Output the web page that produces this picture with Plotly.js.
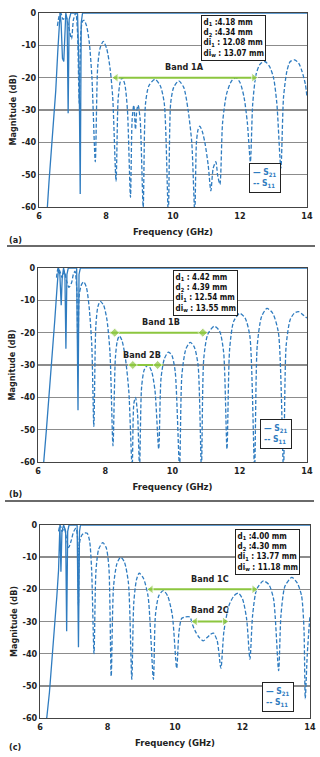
<!DOCTYPE html>
<html><head><meta charset="utf-8">
<script src="https://cdn.plot.ly/plotly-3.0.1.min.js"></script>
<style>html,body{margin:0;padding:0;background:#fff}#chart{width:320px;height:757px}</style>
</head><body><div id="chart"></div>
<script>
// ---------- Data ----------
// Panel (a)
const aS21x = [6.2,6.25,6.3,6.36,6.42,6.5,6.56,6.6,6.63,6.66,6.7,6.74,6.77,6.8,6.84,6.87,6.9,6.95,7.15,7.2,7.23,7.26,7.3,14];
const aS21y = [-65,-60,-52,-44,-35,-24,-12,-4,0,-3,-14,-15,-4,0,-2,-31,-2,0,0,-20,-56,-3,0,0];
const aS11x = [6.55,6.6,6.65,6.72,6.8,6.88,6.97,7.03,7.1,7.15,7.2,7.25,7.3,7.35,7.42,7.5,7.58,7.68,
  7.75,7.82,7.92,8.02,8.12,8.2,8.3, 8.36,8.42,8.48,8.56,8.64,8.73,
  8.78,8.83,8.88,8.92,8.96,9.02,9.11, 9.18,9.28,9.46,9.62,9.74,9.86,
  9.93,10.02,10.17,10.32,10.45,10.56,10.65, 10.7,10.75,10.8,10.87,10.95,11.05,11.13,11.2,11.28,11.33,11.4,
  11.48,11.6,11.75,11.88,12.0,12.12,12.22,12.31, 12.38,12.48,12.6,12.74,12.88,13.0,13.1,13.22,
  13.3,13.4,13.5,13.63,13.75,13.85,13.95,14];
const aS11y = [-4,-1,0,-2,-1,-4,-8,-2,0,-6,-28,-6,-2.5,-2.3,-4,-9,-20,-46,
  -17,-11,-8.8,-11,-17,-26,-52, -27,-21.5,-20,-22,-30,-57,
  -33,-28.5,-36,-30,-28.5,-33,-60, -28,-22.5,-20.5,-22.5,-28,-62,
  -28,-23,-21,-23,-30,-40,-62, -40,-36,-35,-36.5,-40,-47,-55,-48,-46,-50,-53,
  -34,-25,-21,-20,-21.5,-26,-34,-46, -28,-19,-15.8,-15,-16.5,-20,-28,-48,
  -26,-18,-15,-14.5,-15.5,-18,-22,-26];
// Panel (b)
const bS21x = [6.1,6.17,6.25,6.33,6.42,6.5,6.56,6.61,6.65,6.69,6.72,6.76,6.8,6.83,6.86,6.9,7.15,7.19,7.22,7.26,14];
const bS21y = [-65,-60,-50,-40,-28,-16,-7,0,-2,-11.5,-3,0,-2,-25,-2,0,0,-44,-2,0,0];
const bS11x = [6.55,6.6,6.65,6.72,6.78,6.85,6.92,7.0,7.05,7.1,7.15,7.19,7.23,7.3,7.36,7.44,7.52,7.6,7.66,
  7.72,7.78,7.85,7.95,8.05,8.14,8.23, 8.3,8.36,8.42,8.5,8.6,8.7,8.8, 8.85,8.9,8.96,9.02,
  9.08,9.16,9.27,9.38,9.48,9.59, 9.66,9.76,9.88,9.98,10.08,10.21, 10.28,10.4,10.53,10.65,10.76,10.86,
  10.93,11.05,11.24,11.4,11.52,11.62, 11.7,11.82,12.0,12.16,12.3,12.44, 12.52,12.65,12.81,12.98,13.15,13.3,
  13.38,13.5,13.62,13.75,13.88,14];
const bS11y = [-3,0,-1,-3,-1,-4,-6,-4.5,-2,-1,-6,-28,-8,-5,-4.3,-6,-12,-24,-49,
  -18,-12,-10.3,-11.5,-16,-26,-55, -28,-22.5,-21,-22.5,-28,-38,-62, -42,-40,-45,-62,
  -37,-31.5,-30,-32,-38,-56, -34,-28,-26,-27,-32,-62, -33,-25,-23,-24.5,-30,-62,
  -28,-20.5,-18,-19.5,-26,-56, -25,-16.5,-14,-15.5,-21,-62, -24,-15,-12.5,-14,-20,-62,
  -24,-16,-14,-13.5,-14.5,-15.5];
// Panel (c)
const cS21x = [6.1,6.2,6.28,6.36,6.44,6.5,6.55,6.59,6.62,6.65,6.7,6.76,6.79,6.82,6.86,7.1,7.14,7.17,7.2,14];
const cS21y = [-65,-60,-52,-42,-32,-22,-14,0,-14.5,-2,0,-2,-33,-2,0,0,-38,-2,0,0];
const cS11x = [6.55,6.6,6.65,6.72,6.78,6.85,6.92,7.0,7.07,7.12,7.14,7.18,7.25,7.32,7.4,7.47,7.53,7.6,
  7.66,7.74,7.86,7.96,8.04,8.11, 8.18,8.28,8.39,8.5,8.62,8.72, 8.78,8.86,8.94,9.06,9.2,9.36,
  9.42,9.52,9.65,9.78,9.92,10.05, 10.12,10.2,10.3,10.44,10.52,10.6,10.72,10.84,10.95,11.05,11.14,11.25,11.36,
  11.45,11.6,11.75,11.88,12.0,12.12,12.22, 12.3,12.42,12.62,12.78,12.92,13.07,
  13.14,13.26,13.46,13.62,13.75,13.82,13.86,13.92,14];
const cS11y = [-2,0,-2,-1,-4,-7,-5,-2,-1,-5,-25,-5,-3,-2.5,-2.6,-5,-14,-40,
  -14,-7.5,-5.5,-7,-13,-47, -19,-12,-10,-11.5,-18,-48, -24,-17,-15,-16.5,-22,-48,
  -28,-22,-20.4,-22,-28,-44.5, -33,-29,-28.6,-28.6,-31,-33,-35,-36,-35,-34,-33.6,-36,-44.5,
  -33,-25,-22,-21.2,-23,-29,-41.7, -28,-20,-17.4,-18.5,-23,-45.3,
  -28,-19,-16.3,-18,-22,-32,-54,-40,-28];

// Bands: [start, end] in GHz and level in dB
const band1A = [8.22, 12.49], band1Alevel = -20;
const band1B = [8.15, 11.02], band1Bmarks = [8.28, 10.9], band1Blevel = -20;
const band2B = [8.70, 9.72], band2Bmarks = [8.82, 9.56], band2Blevel = -30;
const band1C = [9.21, 12.42], band1Clevel = -20;
const band2C = [10.52, 11.55], band2Clevel = -30;

const yTicks = [0,-10,-20,-30,-40,-50,-60];
const yTickText = ['0','-10','-20','-30','-40','-50','-60'];
const xTicks = [6,8,10,12,14];

const infoA = ['d<sub>1</sub> :4.18 mm','d<sub>2</sub> :4.34 mm','di<sub>1</sub> : 12.08 mm','di<sub>w</sub> : 13.07 mm'];
const infoB = ['d<sub>1</sub> : 4.42 mm','d<sub>2</sub> : 4.39 mm','di<sub>1</sub> : 12.54 mm','di<sub>w</sub> : 13.55 mm'];
const infoC = ['d<sub>1</sub> :4.00 mm','d<sub>2</sub> :4.30 mm','di<sub>1</sub> : 13.77 mm','di<sub>w</sub> : 11.18 mm'];

// ---------- Styling ----------
const BLUE = '#2f7cc0', GREEN = '#8cc63f';
const FONT = "'DejaVu Sans Condensed','Liberation Sans Narrow','DejaVu Sans',sans-serif";
const W = 320, H = 757;
const px = v => v / W, py = v => 1 - v / H;
const f = (size, color) => ({family: FONT, size, color: color || '#222', weight: 'bold', stretch: 'condensed'});

function s21(x, y, n) {
  return {x, y, xaxis: 'x' + n, yaxis: 'y' + n, mode: 'lines', name: 'S21', showlegend: false,
    line: {color: BLUE, width: 1.3}};
}
function s11(x, y, n) {
  return {x, y, xaxis: 'x' + n, yaxis: 'y' + n, mode: 'lines', name: 'S11', showlegend: false,
    line: {color: BLUE, width: 1.3, dash: '4px,2px', shape: 'spline', smoothing: 0.7}};
}
function arrowBand(b, lvl, n) {
  return {x: [b[0], b[0] + 0.08, b[1] - 0.08, b[1]], y: [lvl, lvl, lvl, lvl], xaxis: 'x' + n, yaxis: 'y' + n,
    mode: 'lines+markers', showlegend: false, hoverinfo: 'skip',
    line: {color: GREEN, width: 2},
    marker: {color: GREEN, size: [0, 8, 8, 0], symbol: ['circle', 'triangle-left', 'triangle-right', 'circle']}};
}
function dotBand(b, m, lvl, n) {
  return {x: [b[0], m[0], m[1], b[1]], y: [lvl, lvl, lvl, lvl], xaxis: 'x' + n, yaxis: 'y' + n,
    mode: 'lines+markers', showlegend: false, hoverinfo: 'skip',
    line: {color: GREEN, width: 2},
    marker: {color: GREEN, size: [0, 7, 7, 0], symbol: 'diamond'}};
}

const traces = [
  s21(aS21x, aS21y, ''), s11(aS11x, aS11y, ''), arrowBand(band1A, band1Alevel, ''),
  s21(bS21x, bS21y, '2'), s11(bS11x, bS11y, '2'), dotBand(band1B, band1Bmarks, band1Blevel, '2'), dotBand(band2B, band2Bmarks, band2Blevel, '2'),
  s21(cS21x, cS21y, '3'), s11(cS11x, cS11y, '3'), arrowBand(band1C, band1Clevel, '3'), arrowBand(band2C, band2Clevel, '3')
];

function xax(domain, anchor) {
  return {domain, anchor, range: [6, 14], tickvals: xTicks, showgrid: false, zeroline: false,
    showline: true, mirror: true, linecolor: '#444', linewidth: 1, ticks: '',
    tickfont: f(9),
    title: {text: 'Frequency (GHz)', standoff: 8, font: f(9.5)}};
}
function yax(domain, anchor) {
  return {domain, anchor, range: [-60, 0], tickvals: yTicks, ticktext: yTickText, showgrid: true,
    gridcolor: '#8c8c8c', gridwidth: 1.5, zeroline: false, showline: true, mirror: true,
    linecolor: '#444', linewidth: 1, ticks: '',
    tickfont: f(9),
    title: {text: 'Magnitude (dB)', standoff: 3, font: f(9)}};
}

function infoBox(lines, x, y) {
  return {xref: 'paper', yref: 'paper', x: px(x), y: py(y), xanchor: 'left', yanchor: 'top',
    text: lines.join('<br>'), align: 'left', showarrow: false, bgcolor: '#fff',
    bordercolor: '#222', borderwidth: 1, borderpad: 1.5, font: f(8, '#111')};
}
function legendBox(x, y) {
  return {xref: 'paper', yref: 'paper', x: px(x), y: py(y), xanchor: 'left', yanchor: 'top',
    text: '— S<sub>21</sub><br>-- S<sub>11</sub>', align: 'left', showarrow: false, bgcolor: '#fff',
    bordercolor: '#222', borderwidth: 1, borderpad: 3, font: f(8.5, BLUE)};
}
function bandLabel(text, x, y, n) {
  return {xref: 'x' + n, yref: 'y' + n, x, y, text, showarrow: false, font: f(9)};
}
function panelLabel(text, y) {
  return {xref: 'paper', yref: 'paper', x: px(7), y: py(y), xanchor: 'left', yanchor: 'middle',
    text, showarrow: false, font: f(9)};
}

const layout = {
  width: W, height: H, margin: {l: 0, r: 0, t: 0, b: 0}, paper_bgcolor: '#fff', plot_bgcolor: '#fff',
  showlegend: false,
  xaxis: xax([px(39), px(307)], 'y'), yaxis: yax([py(207), py(13)], 'x'),
  xaxis2: xax([px(38), px(307)], 'y2'), yaxis2: yax([py(462), py(268)], 'x2'),
  xaxis3: xax([px(40), px(310)], 'y3'), yaxis3: yax([py(718), py(525)], 'x3'),
  annotations: [
    infoBox(infoA, 201, 15), infoBox(infoB, 173, 270), infoBox(infoC, 235, 529),
    legendBox(249, 163), legendBox(260, 419), legendBox(262, 682),
    bandLabel('Band 1A', 10.35, -16.8, ''),
    bandLabel('Band 1B', 9.67, -16.6, '2'), bandLabel('Band 2B', 9.09, -26.8, '2'),
    bandLabel('Band 1C', 11.04, -16.8, '3'), bandLabel('Band 2C', 11.04, -26.3, '3'),
    panelLabel('(a)', 240), panelLabel('(b)', 494), panelLabel('(c)', 747)
  ],
  shapes: [
    {type: 'line', xref: 'paper', yref: 'paper', x0: px(7), x1: px(315), y0: py(246), y1: py(246), line: {color: '#6a6a6a', width: 2}},
    {type: 'line', xref: 'paper', yref: 'paper', x0: px(5), x1: px(314), y0: py(501), y1: py(501), line: {color: '#6a6a6a', width: 2}}
  ]
};

Plotly.newPlot('chart', traces, layout, {displayModeBar: false, staticPlot: true});
</script></body></html>
